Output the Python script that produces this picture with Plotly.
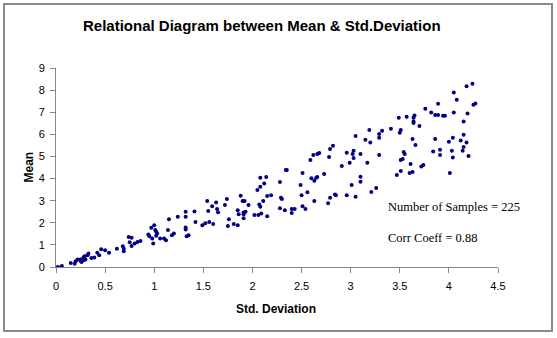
import plotly.graph_objects as go

title_text = "Relational Diagram between Mean & Std.Deviation"
x_title = "Std. Deviation"
y_title = "Mean"
note_samples = "Number of Samples = 225"
note_corr = "Corr Coeff = 0.88"

x_ticks = [0, 0.5, 1, 1.5, 2, 2.5, 3, 3.5, 4, 4.5]
x_tick_labels = ["0", "0.5", "1", "1.5", "2", "2.5", "3", "3.5", "4", "4.5"]
y_ticks = [0, 1, 2, 3, 4, 5, 6, 7, 8, 9]
y_tick_labels = [str(v) for v in y_ticks]

std_dev = [
    0.02, 0.06, 0.15, 0.19, 0.20, 0.22, 0.25, 0.25, 0.26, 0.28, 0.28, 0.29, 0.30, 0.32, 0.33,
    0.36, 0.39, 0.42, 0.44, 0.46, 0.50, 0.54, 0.62, 0.68, 0.69, 0.69, 0.74, 0.77, 0.75, 0.77,
    0.80, 0.83, 0.86, 0.94, 0.95,
    0.97, 1.00, 1.01, 1.02, 1.03, 1.02, 0.99, 0.98, 1.06, 1.10, 1.12, 1.14, 1.15, 1.18, 1.20,
    1.24, 1.32, 1.32, 1.32, 1.32, 1.33, 1.35, 1.41, 1.42, 1.49, 1.52, 1.54, 1.55, 1.56, 1.59,
    1.60, 1.63, 1.64, 1.65, 1.72, 1.74, 1.76, 1.75, 1.81, 1.85, 1.85, 1.86, 1.88, 1.90, 1.92,
    1.91, 1.93, 1.91, 1.91, 1.96,
    2.02, 2.06, 2.09, 2.15, 2.08, 2.07, 2.11, 2.15, 2.19, 2.05, 2.08, 2.12, 2.08, 2.14, 2.28,
    2.29, 2.30, 2.28, 2.33, 2.40, 2.43, 2.40, 2.34, 2.35, 2.49, 2.51, 2.50, 2.51, 2.54, 2.56,
    2.60, 2.63, 2.65, 2.66, 2.63, 2.73, 2.59, 2.62, 2.66, 2.68, 2.79, 2.82, 2.78, 2.77, 2.79,
    2.84, 2.85,
    2.91, 2.99, 2.96, 3.02, 3.03, 3.03, 3.05, 3.10, 2.96, 3.05, 3.01, 3.10, 3.10, 3.21, 3.26,
    3.17, 3.15, 3.20, 3.19, 3.29, 3.29, 3.32, 3.29, 3.41, 3.50, 3.51, 3.49, 3.57, 3.64, 3.65,
    3.64, 3.64, 3.70, 3.63, 3.66, 3.54, 3.55, 3.53, 3.51, 3.61, 3.51, 3.47, 3.60, 3.63,
    4.24, 4.18, 4.05, 4.08, 4.27, 4.25, 3.89, 3.76, 3.82, 3.86, 3.89, 3.94, 3.96, 4.05, 4.19,
    4.15, 3.86, 4.00, 4.04, 4.12, 4.15, 4.18, 4.15, 3.91, 3.84, 3.91, 4.03, 4.14, 4.20, 4.04,
    3.74, 3.72, 4.01,
]

mean = [
    0.00, 0.05, 0.18, 0.15, 0.26, 0.34, 0.27, 0.34, 0.23, 0.30, 0.43, 0.49, 0.34, 0.53, 0.61,
    0.41, 0.43, 0.65, 0.53, 0.80, 0.76, 0.64, 0.83, 0.94, 0.83, 0.71, 1.36, 1.32, 1.12, 0.95,
    1.06, 1.13, 1.18, 1.47, 1.39,
    1.77, 1.89, 1.67, 1.59, 1.52, 1.41, 1.06, 1.29, 1.29, 1.29, 1.21, 1.67, 2.16, 1.44, 1.52,
    2.27, 2.50, 2.27, 1.79, 1.70, 1.39, 1.44, 2.51, 2.04, 1.89, 1.98, 2.98, 2.53, 2.04, 2.75,
    1.94, 2.92, 2.62, 2.48, 2.80, 3.07, 2.16, 1.85, 1.95, 1.89, 2.57, 2.39, 3.22, 2.98, 2.98,
    2.47, 2.50, 2.20, 2.39, 2.80,
    2.35, 2.35, 2.42, 2.30, 2.72, 2.83, 2.98, 3.21, 3.25, 3.48, 3.63, 3.78, 4.04, 4.07, 3.84,
    3.13, 3.07, 2.66, 2.57, 2.62, 2.62, 2.44, 4.39, 4.39, 3.71, 4.25, 3.25, 2.75, 2.62, 3.38,
    4.01, 3.90, 4.04, 4.07, 2.98, 4.21, 4.84, 5.07, 5.11, 5.16, 5.34, 5.48, 4.98, 2.88, 3.13,
    3.28, 3.25,
    4.57, 4.71, 5.17, 5.11, 5.26, 4.93, 5.93, 5.11, 3.25, 3.18, 3.71, 3.86, 4.08, 3.39, 3.57,
    4.71, 5.75, 5.63, 6.20, 6.02, 5.84, 6.16, 5.07, 6.25, 6.07, 6.20, 6.75, 6.79, 6.75, 6.85,
    6.58, 6.51, 6.38, 5.79, 5.52, 5.20, 5.11, 4.89, 4.84, 4.66, 4.34, 4.16, 4.25, 4.30,
    8.29, 8.17, 7.89, 7.56, 7.40, 7.34, 7.38, 7.16, 6.99, 6.88, 6.88, 6.84, 6.84, 6.99, 6.94,
    6.58, 5.79, 5.67, 5.84, 5.72, 5.98, 5.63, 5.43, 5.30, 5.22, 5.07, 5.26, 5.26, 5.02, 4.95,
    4.61, 4.54, 4.25,
]

# plot area: x 56..498 px, y 68..267 px
L, R, T, B = 56, 59, 68, 71
W, H = 557, 338
pw, ph = W - L - R, H - T - B

def px(x):
    return (x - L) / pw

def py(y):
    return (H - B - y) / ph

fig = go.Figure()
fig.add_trace(go.Scatter(
    x=std_dev, y=mean, mode="markers",
    marker=dict(symbol="circle", size=4, color="#000080", line=dict(width=0)),
    showlegend=False, hoverinfo="skip",
))

axis_common = dict(
    showgrid=False, zeroline=False, showline=True, linecolor="#868686", linewidth=1,
    ticks="outside", ticklen=5, tickcolor="#868686", tickwidth=1,
    tickfont=dict(family="Liberation Sans, Arial", size=11, color="#000000"),
    mirror=False,
)

fig.update_xaxes(range=[0, 4.5], tickvals=x_ticks, ticktext=x_tick_labels,
                 ticklabelstandoff=4, **axis_common)
fig.update_yaxes(range=[0, 9], tickvals=y_ticks, ticktext=y_tick_labels,
                 ticklabelstandoff=3, **axis_common)

font_bold = "Liberation Sans, Arial"
annotations = [
    dict(text="<b>" + title_text + "</b>", x=px(262), y=py(25), xanchor="center", yanchor="middle",
         font=dict(family=font_bold, size=15, color="#000")),
    dict(text="<b>" + x_title + "</b>", x=px(276), y=py(309), xanchor="center", yanchor="middle",
         font=dict(family=font_bold, size=12, color="#000")),
    dict(text="<b>" + y_title + "</b>", x=px(28.5), y=py(167), xanchor="center", yanchor="middle",
         textangle=-90, font=dict(family=font_bold, size=12, color="#000")),
    dict(text=note_samples, x=px(386), y=py(207), xanchor="left", yanchor="middle",
         font=dict(family="Liberation Serif, Times New Roman", size=12.5, color="#000")),
    dict(text=note_corr, x=px(386), y=py(238), xanchor="left", yanchor="middle",
         font=dict(family="Liberation Serif, Times New Roman", size=12.5, color="#000")),
]
for a in annotations:
    a.update(xref="paper", yref="paper", showarrow=False)

fig.update_layout(
    width=W, height=H, margin=dict(l=L, r=R, t=T, b=B),
    paper_bgcolor="white", plot_bgcolor="white",
    annotations=annotations,
    shapes=[dict(type="rect", xref="paper", yref="paper",
                 x0=px(4), x1=px(552), y0=py(331), y1=py(4),
                 line=dict(color="#8a8a8a", width=2), layer="below")],
)

fig.write_html("out.html")
